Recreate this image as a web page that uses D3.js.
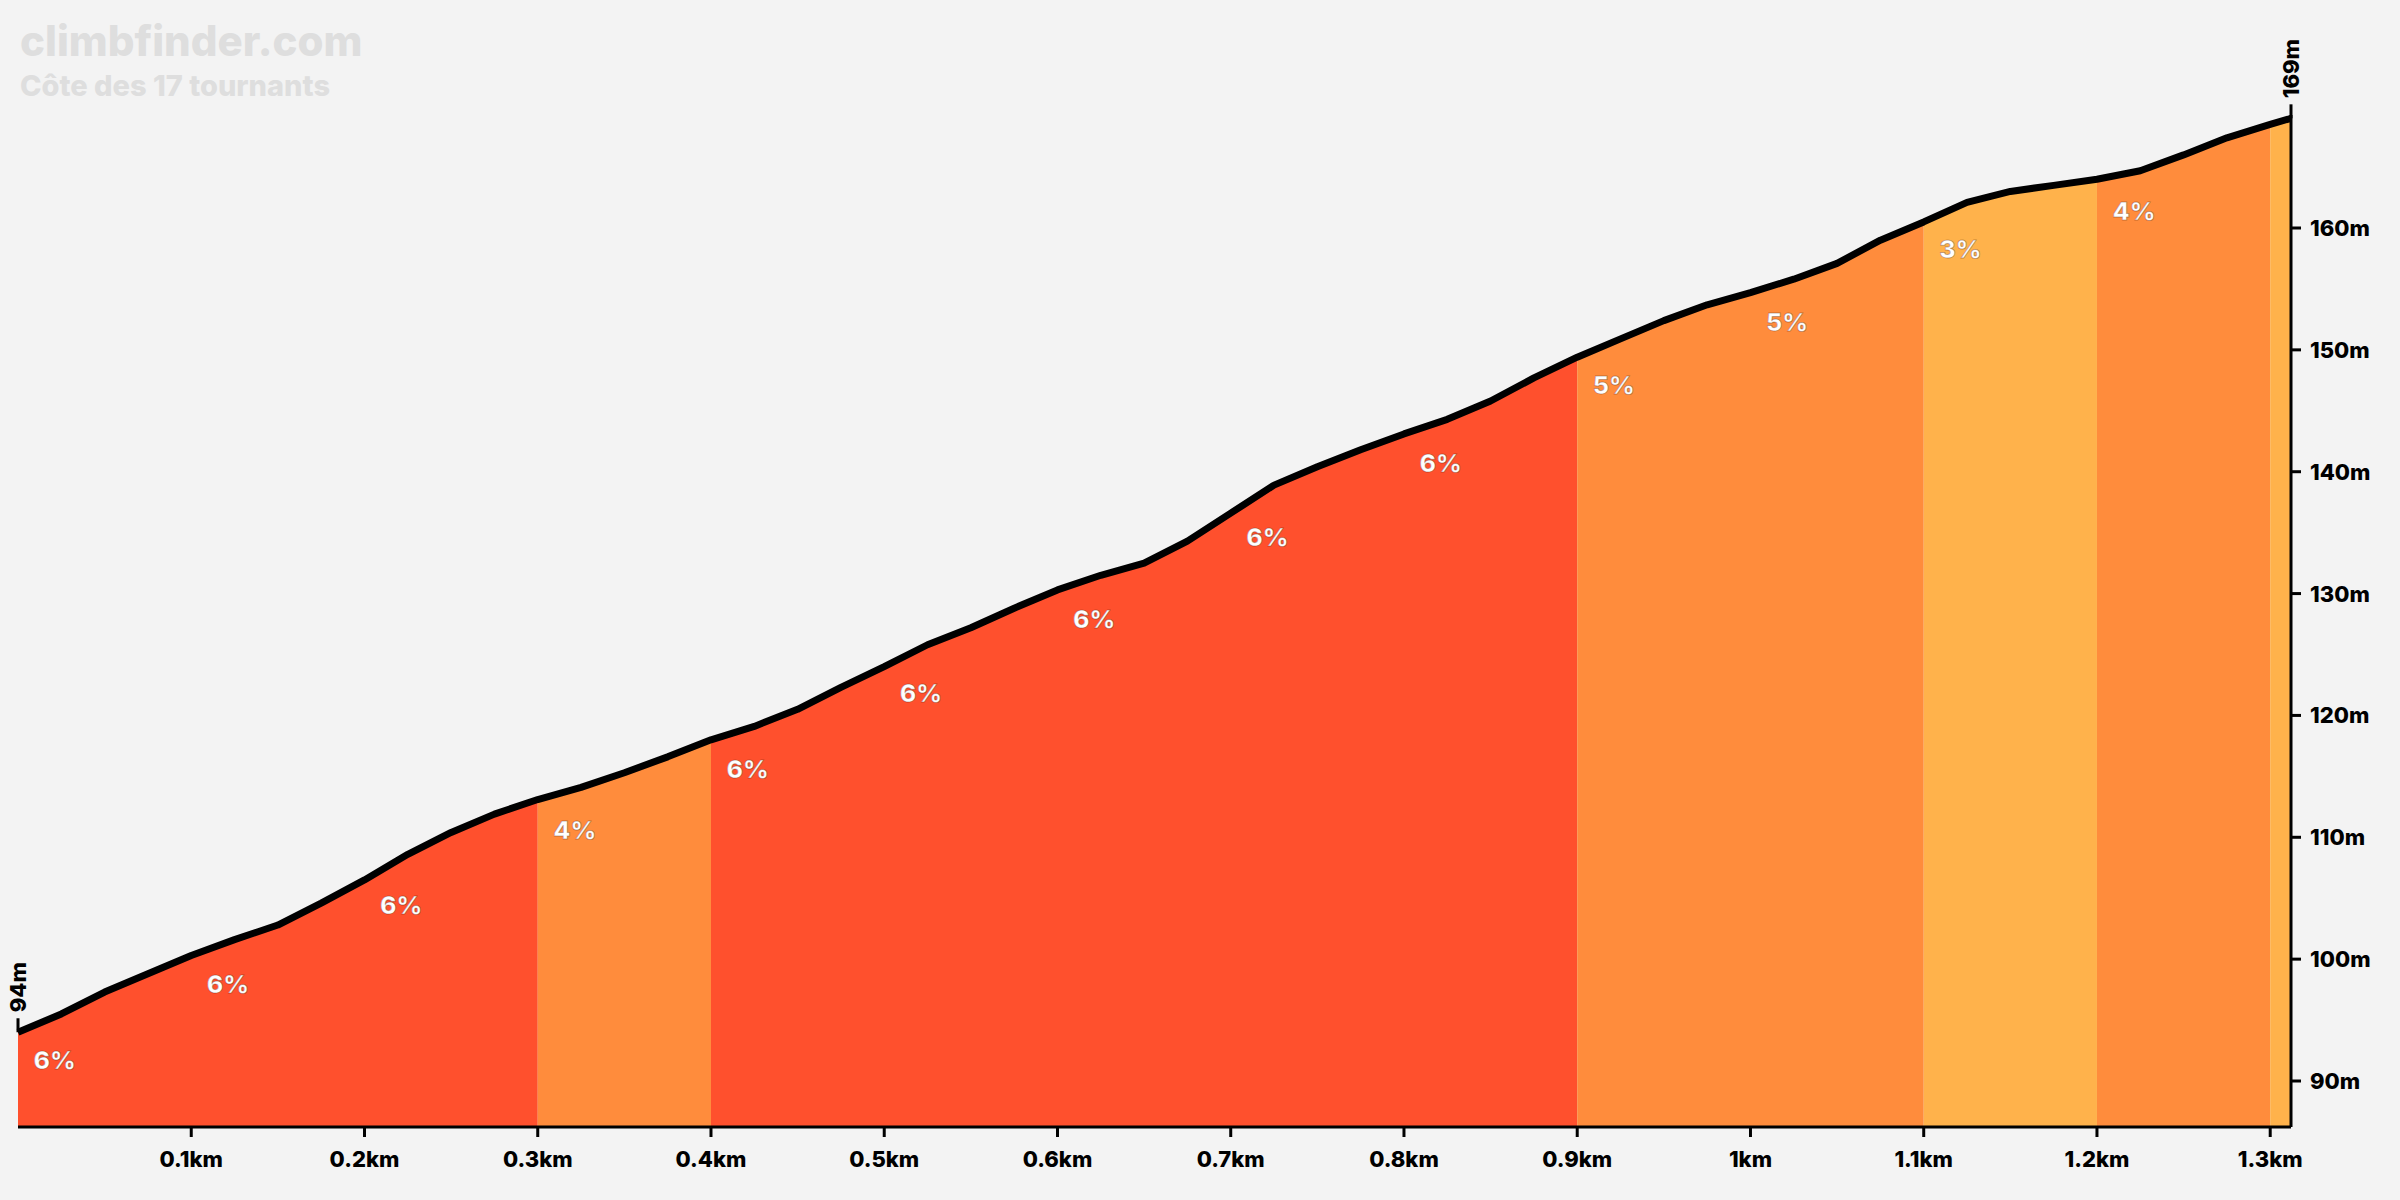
<!DOCTYPE html>
<html><head><meta charset="utf-8">
<script src="https://cdn.jsdelivr.net/npm/d3@7"></script>
<style>
body{margin:0;background:#f3f3f3;}
text{font-family:Inter,"DejaVu Sans",sans-serif;font-weight:800;}
</style></head>
<body><svg width="2400" height="1200"></svg>
<script>
// profile sampled every 25 m
const distances = [0,0.025,0.05,0.075,0.1,0.125,0.15,0.175,0.2,0.225,0.25,0.275,0.3,0.325,0.35,0.375,0.4,0.425,0.45,0.475,0.5,0.525,0.55,0.575,0.6,0.625,0.65,0.675,0.7,0.725,0.75,0.775,0.8,0.825,0.85,0.875,0.9,0.925,0.95,0.975,1.0,1.025,1.05,1.075,1.1,1.125,1.15,1.175,1.2,1.225,1.25,1.275,1.3,1.312];
const elevations = [94.0,95.5,97.3,98.8,100.3,101.6,102.8,104.6,106.5,108.6,110.4,111.9,113.1,114.1,115.3,116.6,118.0,119.1,120.5,122.3,124.0,125.8,127.2,128.8,130.3,131.5,132.5,134.3,136.6,138.9,140.4,141.8,143.1,144.3,145.8,147.7,149.4,150.9,152.4,153.7,154.7,155.8,157.1,159.0,160.5,162.1,163.0,163.5,164.0,164.7,166.0,167.4,168.5,169.0];
// gradient per 100 m section
const sectionStarts = [0,0.1,0.2,0.3,0.4,0.5,0.6,0.7,0.8,0.9,1.0,1.1,1.2,1.3];
const sectionGrades = [6,6,6,4,6,6,6,6,6,5,5,3,4,3];
const yTicks = [90,100,110,120,130,140,150,160];
const xTicks = [0.1,0.2,0.3,0.4,0.5,0.6,0.7,0.8,0.9,1.0,1.1,1.2,1.3];

const svg = d3.select("svg");
const x = d3.scaleLinear().domain([0, 1.312]).range([18, 2291]);
const y = d3.scaleLinear().domain([90, 160]).range([1081, 228]);
const baseY = 1127;
const data = distances.map((d, i) => ({d, e: elevations[i]}));
const colour = g => g >= 6 ? "#ff502d" : g >= 4 ? "#ff8c3c" : "#ffb24b";
const elevAt = d => {
  const i = d3.bisectLeft(distances, d);
  if (i <= 0) return elevations[0];
  if (i >= distances.length) return elevations[elevations.length - 1];
  const t = (d - distances[i-1]) / (distances[i] - distances[i-1]);
  return elevations[i-1] + t * (elevations[i] - elevations[i-1]);
};
const sectionEnd = i => i < sectionStarts.length - 1 ? sectionStarts[i+1] : 1.312;

// coloured runs (merge neighbouring sections of equal colour)
const area = d3.area().x(p => x(p.d)).y0(baseY).y1(p => y(p.e));
let runStart = 0;
sectionStarts.forEach((s, i) => {
  const last = i === sectionStarts.length - 1;
  if (last || colour(sectionGrades[i+1]) !== colour(sectionGrades[i])) {
    const a = sectionStarts[runStart], b = sectionEnd(i);
    const pts = data.filter(p => p.d >= a - 1e-9 && p.d <= b + 1e-9);
    svg.append("path").attr("d", area(pts)).attr("fill", colour(sectionGrades[i]));
    runStart = i + 1;
  }
});

// grade labels
sectionStarts.forEach((s, i) => {
  if (sectionEnd(i) - s > 0.05) {
    svg.append("text")
      .attr("x", x(s + 0.009)).attr("y", y(elevAt(s + 0.01)) + 44)
      .attr("fill", "#fff").attr("font-size", 25)
      .attr("stroke", "rgba(80,20,0,0.35)").attr("stroke-width", 1)
      .text(sectionGrades[i] + "%");
  }
});

// profile line
svg.append("path")
  .attr("d", d3.line().x(p => x(p.d)).y(p => y(p.e))(data))
  .attr("fill", "none").attr("stroke", "#000").attr("stroke-width", 7).attr("stroke-linejoin", "round");

// x axis
svg.append("line").attr("x1", 18).attr("x2", 2291).attr("y1", baseY).attr("y2", baseY).attr("stroke", "#000").attr("stroke-width", 3);
xTicks.forEach(t => {
  svg.append("line").attr("x1", x(t)).attr("x2", x(t)).attr("y1", baseY).attr("y2", baseY + 10).attr("stroke", "#000").attr("stroke-width", 3);
  svg.append("text").attr("x", x(t)).attr("y", baseY + 40).attr("text-anchor", "middle").attr("font-size", 22)
    .text(t === 1 ? "1km" : d3.format("~g")(t) + "km");
});

// y axis on right
svg.append("line").attr("x1", 2291).attr("x2", 2291).attr("y1", 115).attr("y2", baseY).attr("stroke", "#000").attr("stroke-width", 3);
yTicks.forEach(t => {
  svg.append("line").attr("x1", 2291).attr("x2", 2301).attr("y1", y(t)).attr("y2", y(t)).attr("stroke", "#000").attr("stroke-width", 3);
  svg.append("text").attr("x", 2310).attr("y", y(t) + 8).attr("font-size", 22).text(t + "m");
});

// start / end markers
const yS = y(elevations[0]), yE = y(elevations[elevations.length - 1]);
svg.append("line").attr("x1", 18).attr("x2", 18).attr("y1", yS).attr("y2", yS - 14).attr("stroke", "#000").attr("stroke-width", 3);
svg.append("text").attr("transform", `translate(26,${yS - 20}) rotate(-90)`).attr("font-size", 22).text("94m");
svg.append("line").attr("x1", 2291).attr("x2", 2291).attr("y1", yE).attr("y2", yE - 14).attr("stroke", "#000").attr("stroke-width", 3);
svg.append("text").attr("transform", `translate(2299,${yE - 20}) rotate(-90)`).attr("font-size", 22).text("169m");

// watermark title
svg.append("text").attr("x", 20).attr("y", 56).attr("font-size", 42).attr("fill", "#dedede").text("climbfinder.com");
svg.append("text").attr("x", 20).attr("y", 96).attr("font-size", 29).attr("fill", "#dedede").text("Côte des 17 tournants");
</script></body></html>
